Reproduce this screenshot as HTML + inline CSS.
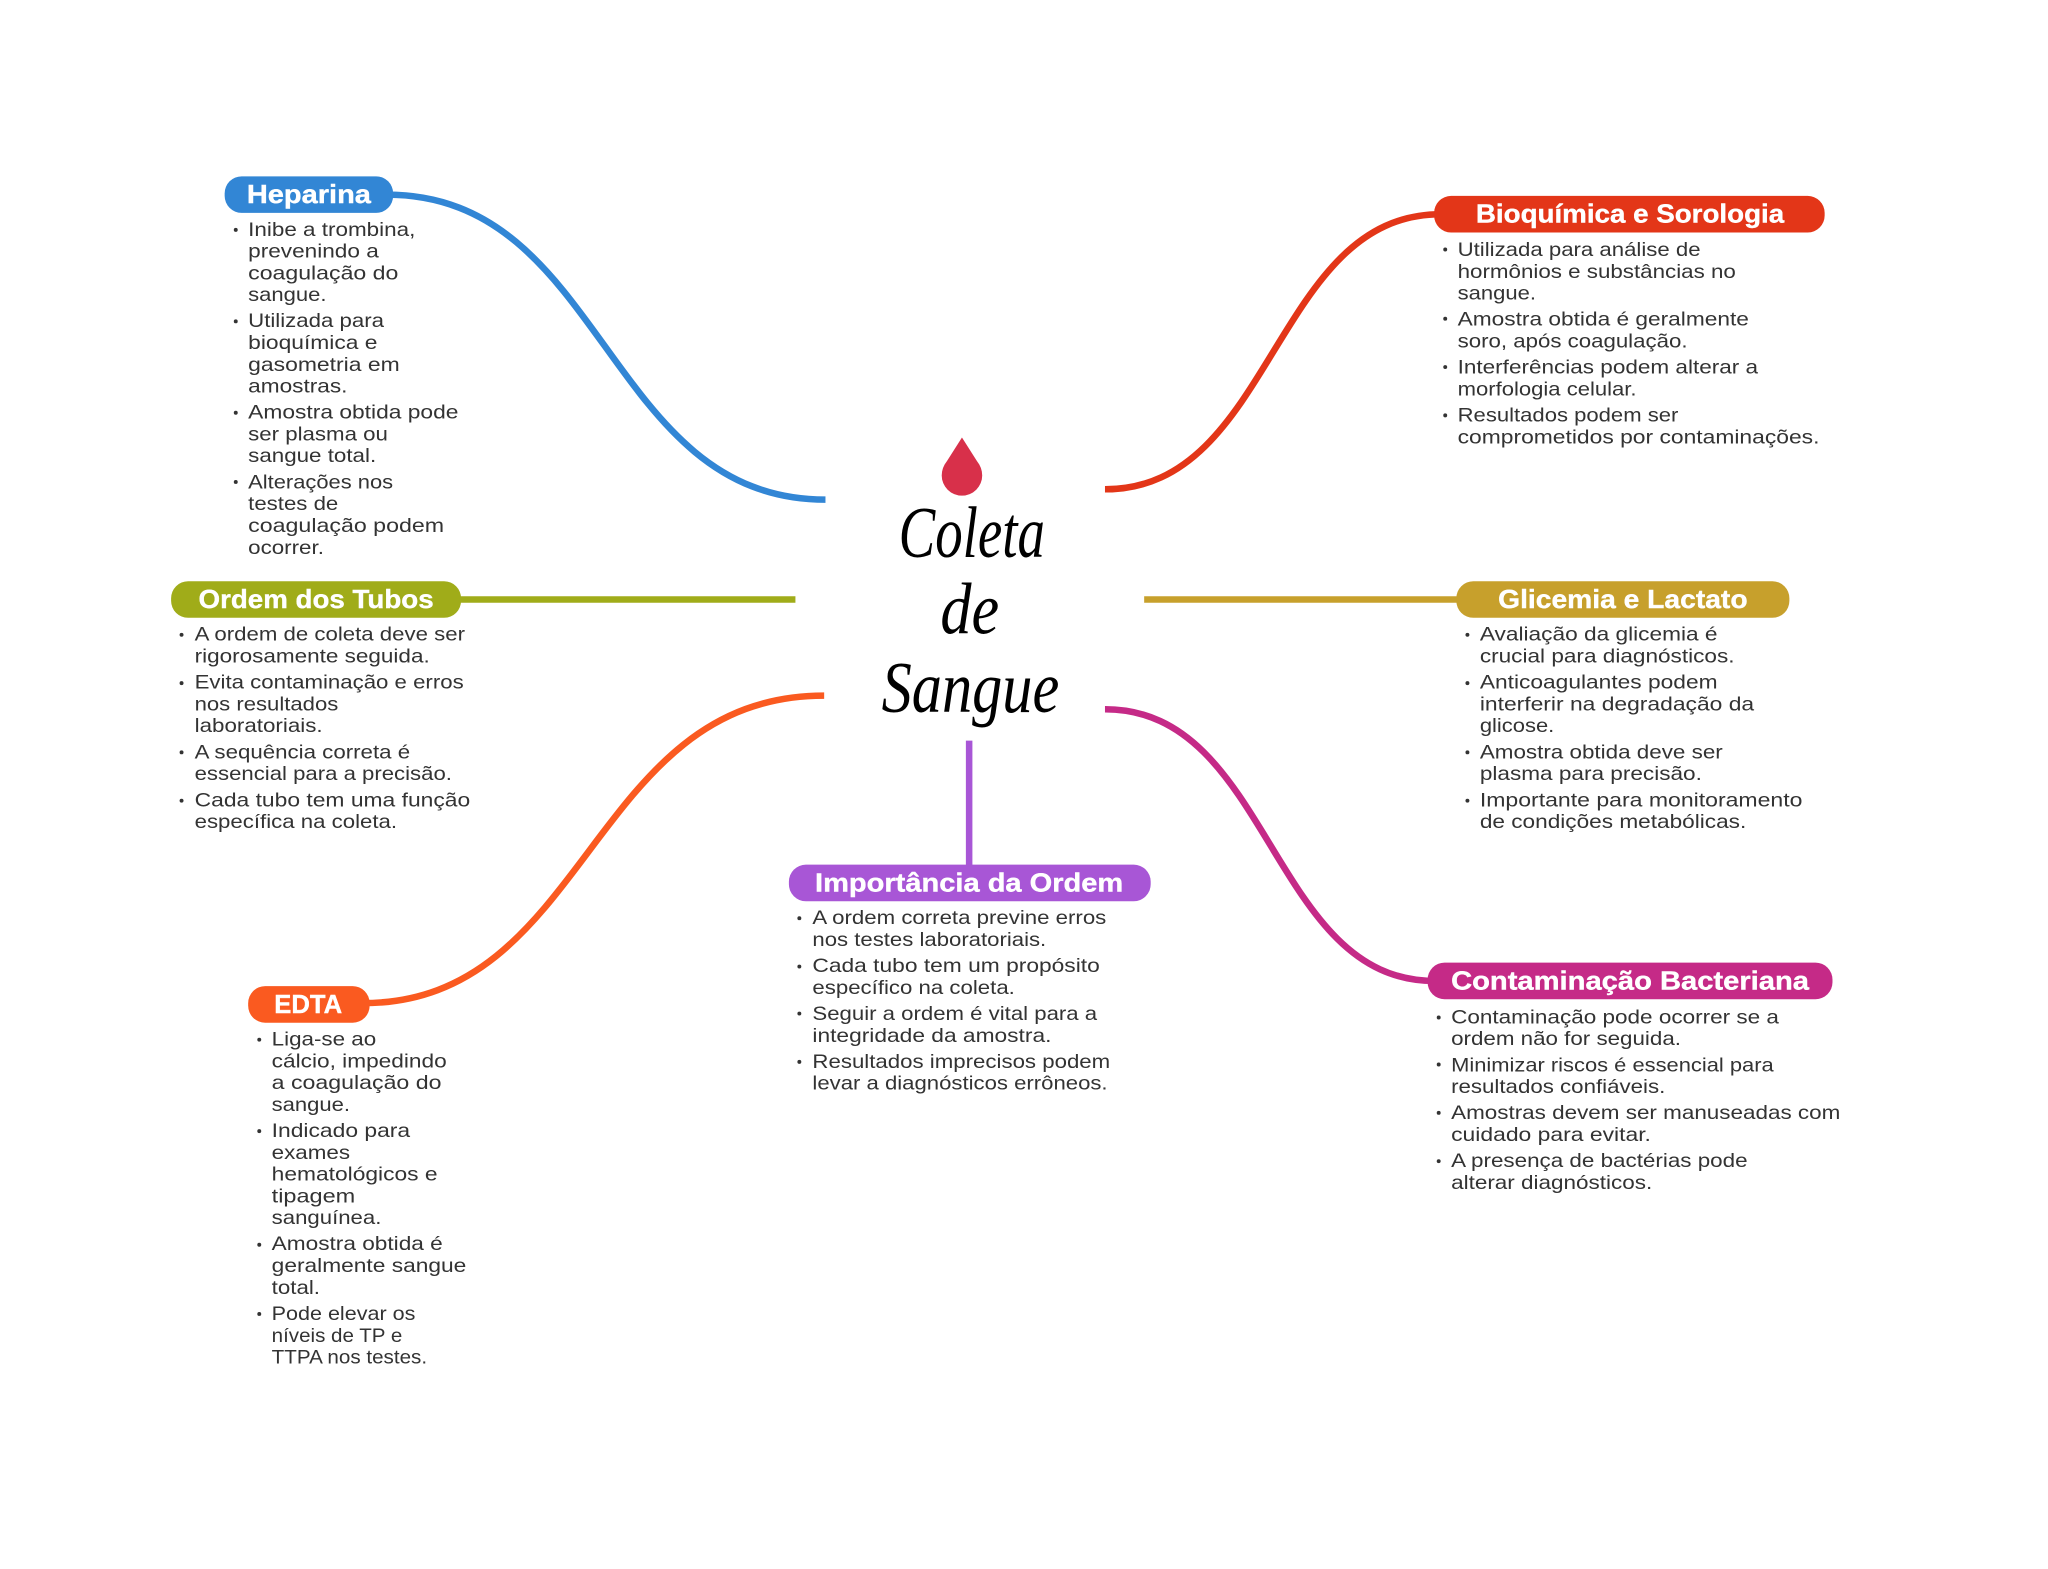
<!DOCTYPE html>
<html lang="pt">
<head>
<meta charset="utf-8">
<title>Coleta de Sangue</title>
<style>
html,body{margin:0;padding:0;background:#fff;width:2048px;height:1569px;overflow:hidden}
svg{display:block}
.t{font-family:"Liberation Sans",sans-serif;font-size:14.6px;fill:#333}
.h{font-family:"Liberation Sans",sans-serif;font-weight:700;font-size:20px;fill:#fff;stroke:#fff;stroke-width:.3px}
.s{font-family:"Liberation Serif",serif;font-style:italic;font-size:56px;fill:#000}
.c{fill:none;stroke-width:5}
</style>
</head>
<body>
<svg xmlns="http://www.w3.org/2000/svg" width="2048" height="1569" viewBox="0 0 1568 1201.25">
<rect width="1568" height="1201.25" fill="#fff"/>

<path class="c" stroke="#3286d5" d="M296 149C463.500 149 463.500 382.500 632 382.500"/>
<path class="c" stroke="#e33618" d="M846 374.600C975 374.600 975 164 1103 164"/>
<path class="c" stroke="#a0ac19" d="M348 459H609"/>
<path class="c" stroke="#c7a02c" d="M876 459H1120"/>
<path class="c" stroke="#fa5a20" d="M631 532.600C451 532.600 451 768 278 768"/>
<path class="c" stroke="#c52a87" d="M846 543C972.800 543 972.800 751 1098 751"/>
<path class="c" stroke="#a856d6" d="M742 567V667"/>

<path d="M736.500 335L725 353Q721 358 721 364A15.500 15.500 0 0 0 752 364Q752 358 748 353Z" fill="#d8304a"/>
<text class="s" x="688" y="426.500" textLength="112" lengthAdjust="spacingAndGlyphs">Coleta</text>
<text class="s" x="720" y="485" textLength="45" lengthAdjust="spacingAndGlyphs">de</text>
<text class="s" x="675" y="545" textLength="136" lengthAdjust="spacingAndGlyphs">Sangue</text>

<rect x="172" y="135" width="129" height="28" rx="13" fill="#3286d5"/>
<text class="h" x="189" y="155.500" textLength="95" lengthAdjust="spacingAndGlyphs">Heparina</text>
<rect x="1098" y="150" width="299" height="28" rx="13" fill="#e33618"/>
<text class="h" x="1130" y="170.500" textLength="236" lengthAdjust="spacingAndGlyphs">Bioquímica e Sorologia</text>
<rect x="131" y="445" width="222" height="28" rx="13" fill="#a0ac19"/>
<text class="h" x="152" y="465.500" textLength="180" lengthAdjust="spacingAndGlyphs">Ordem dos Tubos</text>
<rect x="1115" y="445" width="255" height="28" rx="13" fill="#c7a02c"/>
<text class="h" x="1147" y="465.500" textLength="191" lengthAdjust="spacingAndGlyphs">Glicemia e Lactato</text>
<rect x="604" y="662" width="277" height="28" rx="13" fill="#a856d6"/>
<text class="h" x="624" y="682.500" textLength="236" lengthAdjust="spacingAndGlyphs">Importância da Ordem</text>
<rect x="190" y="755" width="93" height="28" rx="13" fill="#fa5a20"/>
<text class="h" x="210" y="775.500" textLength="52" lengthAdjust="spacingAndGlyphs">EDTA</text>
<rect x="1093" y="737" width="310" height="28" rx="13" fill="#c52a87"/>
<text class="h" x="1111" y="757.500" textLength="274" lengthAdjust="spacingAndGlyphs">Contaminação Bacteriana</text>

<g fill="#333">
<circle cx="180.500" cy="176" r="1.500"/><circle cx="180.500" cy="246" r="1.500"/><circle cx="180.500" cy="316" r="1.500"/><circle cx="180.500" cy="369" r="1.500"/>
<circle cx="1106.500" cy="191" r="1.500"/><circle cx="1106.500" cy="244" r="1.500"/><circle cx="1106.500" cy="281" r="1.500"/><circle cx="1106.500" cy="318" r="1.500"/>
<circle cx="139" cy="486" r="1.500"/><circle cx="139" cy="523" r="1.500"/><circle cx="139" cy="576" r="1.500"/><circle cx="139" cy="613" r="1.500"/>
<circle cx="1123.500" cy="486" r="1.500"/><circle cx="1123.500" cy="523" r="1.500"/><circle cx="1123.500" cy="576" r="1.500"/><circle cx="1123.500" cy="613" r="1.500"/>
<circle cx="612" cy="703" r="1.500"/><circle cx="612" cy="740" r="1.500"/><circle cx="612" cy="776" r="1.500"/><circle cx="612" cy="813" r="1.500"/>
<circle cx="198.500" cy="796" r="1.500"/><circle cx="198.500" cy="866" r="1.500"/><circle cx="198.500" cy="953" r="1.500"/><circle cx="198.500" cy="1006" r="1.500"/>
<circle cx="1101.500" cy="779" r="1.500"/><circle cx="1101.500" cy="815" r="1.500"/><circle cx="1101.500" cy="852" r="1.500"/><circle cx="1101.500" cy="889" r="1.500"/>
</g>

<g class="t">
<text class="t" x="190" y="180.500" textLength="128" lengthAdjust="spacingAndGlyphs">Inibe a trombina,</text>
<text class="t" x="190" y="197.200" textLength="100" lengthAdjust="spacingAndGlyphs">prevenindo a</text>
<text class="t" x="190" y="213.900" textLength="115" lengthAdjust="spacingAndGlyphs">coagulação do</text>
<text class="t" x="190" y="230.500" textLength="60" lengthAdjust="spacingAndGlyphs">sangue.</text>
<text class="t" x="190" y="250.500" textLength="104" lengthAdjust="spacingAndGlyphs">Utilizada para</text>
<text class="t" x="190" y="267.200" textLength="99" lengthAdjust="spacingAndGlyphs">bioquímica e</text>
<text class="t" x="190" y="283.900" textLength="116" lengthAdjust="spacingAndGlyphs">gasometria em</text>
<text class="t" x="190" y="300.500" textLength="76" lengthAdjust="spacingAndGlyphs">amostras.</text>
<text class="t" x="190" y="320.500" textLength="161" lengthAdjust="spacingAndGlyphs">Amostra obtida pode</text>
<text class="t" x="190" y="337.200" textLength="107" lengthAdjust="spacingAndGlyphs">ser plasma ou</text>
<text class="t" x="190" y="353.900" textLength="98" lengthAdjust="spacingAndGlyphs">sangue total.</text>
<text class="t" x="190" y="373.900" textLength="111" lengthAdjust="spacingAndGlyphs">Alterações nos</text>
<text class="t" x="190" y="390.600" textLength="69" lengthAdjust="spacingAndGlyphs">testes de</text>
<text class="t" x="190" y="407.300" textLength="150" lengthAdjust="spacingAndGlyphs">coagulação podem</text>
<text class="t" x="190" y="424" textLength="58" lengthAdjust="spacingAndGlyphs">ocorrer.</text>

<text class="t" x="1116" y="196" textLength="186" lengthAdjust="spacingAndGlyphs">Utilizada para análise de</text>
<text class="t" x="1116" y="212.700" textLength="213" lengthAdjust="spacingAndGlyphs">hormônios e substâncias no</text>
<text class="t" x="1116" y="229.400" textLength="60" lengthAdjust="spacingAndGlyphs">sangue.</text>
<text class="t" x="1116" y="249.300" textLength="223" lengthAdjust="spacingAndGlyphs">Amostra obtida é geralmente</text>
<text class="t" x="1116" y="266" textLength="176" lengthAdjust="spacingAndGlyphs">soro, após coagulação.</text>
<text class="t" x="1116" y="286" textLength="230" lengthAdjust="spacingAndGlyphs">Interferências podem alterar a</text>
<text class="t" x="1116" y="302.700" textLength="137" lengthAdjust="spacingAndGlyphs">morfologia celular.</text>
<text class="t" x="1116" y="322.700" textLength="169" lengthAdjust="spacingAndGlyphs">Resultados podem ser</text>
<text class="t" x="1116" y="339.400" textLength="277" lengthAdjust="spacingAndGlyphs">comprometidos por contaminações.</text>

<text class="t" x="149" y="490.500" textLength="207" lengthAdjust="spacingAndGlyphs">A ordem de coleta deve ser</text>
<text class="t" x="149" y="507.200" textLength="180" lengthAdjust="spacingAndGlyphs">rigorosamente seguida.</text>
<text class="t" x="149" y="527.200" textLength="206" lengthAdjust="spacingAndGlyphs">Evita contaminação e erros</text>
<text class="t" x="149" y="543.900" textLength="110" lengthAdjust="spacingAndGlyphs">nos resultados</text>
<text class="t" x="149" y="560.600" textLength="98" lengthAdjust="spacingAndGlyphs">laboratoriais.</text>
<text class="t" x="149" y="580.600" textLength="165" lengthAdjust="spacingAndGlyphs">A sequência correta é</text>
<text class="t" x="149" y="597.300" textLength="197" lengthAdjust="spacingAndGlyphs">essencial para a precisão.</text>
<text class="t" x="149" y="617.300" textLength="211" lengthAdjust="spacingAndGlyphs">Cada tubo tem uma função</text>
<text class="t" x="149" y="634" textLength="155" lengthAdjust="spacingAndGlyphs">específica na coleta.</text>

<text class="t" x="1133" y="490.500" textLength="182" lengthAdjust="spacingAndGlyphs">Avaliação da glicemia é</text>
<text class="t" x="1133" y="507.200" textLength="195" lengthAdjust="spacingAndGlyphs">crucial para diagnósticos.</text>
<text class="t" x="1133" y="527.200" textLength="182" lengthAdjust="spacingAndGlyphs">Anticoagulantes podem</text>
<text class="t" x="1133" y="543.900" textLength="210" lengthAdjust="spacingAndGlyphs">interferir na degradação da</text>
<text class="t" x="1133" y="560.600" textLength="57" lengthAdjust="spacingAndGlyphs">glicose.</text>
<text class="t" x="1133" y="580.600" textLength="186" lengthAdjust="spacingAndGlyphs">Amostra obtida deve ser</text>
<text class="t" x="1133" y="597.300" textLength="170" lengthAdjust="spacingAndGlyphs">plasma para precisão.</text>
<text class="t" x="1133" y="617.300" textLength="247" lengthAdjust="spacingAndGlyphs">Importante para monitoramento</text>
<text class="t" x="1133" y="634" textLength="204" lengthAdjust="spacingAndGlyphs">de condições metabólicas.</text>

<text class="t" x="622" y="707.500" textLength="225" lengthAdjust="spacingAndGlyphs">A ordem correta previne erros</text>
<text class="t" x="622" y="724.200" textLength="179" lengthAdjust="spacingAndGlyphs">nos testes laboratoriais.</text>
<text class="t" x="622" y="744.200" textLength="220" lengthAdjust="spacingAndGlyphs">Cada tubo tem um propósito</text>
<text class="t" x="622" y="760.900" textLength="155" lengthAdjust="spacingAndGlyphs">específico na coleta.</text>
<text class="t" x="622" y="780.900" textLength="218" lengthAdjust="spacingAndGlyphs">Seguir a ordem é vital para a</text>
<text class="t" x="622" y="797.600" textLength="183" lengthAdjust="spacingAndGlyphs">integridade da amostra.</text>
<text class="t" x="622" y="817.600" textLength="228" lengthAdjust="spacingAndGlyphs">Resultados imprecisos podem</text>
<text class="t" x="622" y="834.300" textLength="226" lengthAdjust="spacingAndGlyphs">levar a diagnósticos errôneos.</text>

<text class="t" x="208" y="800.500" textLength="80" lengthAdjust="spacingAndGlyphs">Liga-se ao</text>
<text class="t" x="208" y="817.200" textLength="134" lengthAdjust="spacingAndGlyphs">cálcio, impedindo</text>
<text class="t" x="208" y="833.900" textLength="130" lengthAdjust="spacingAndGlyphs">a coagulação do</text>
<text class="t" x="208" y="850.500" textLength="60" lengthAdjust="spacingAndGlyphs">sangue.</text>
<text class="t" x="208" y="870.500" textLength="106" lengthAdjust="spacingAndGlyphs">Indicado para</text>
<text class="t" x="208" y="887.200" textLength="60" lengthAdjust="spacingAndGlyphs">exames</text>
<text class="t" x="208" y="903.900" textLength="127" lengthAdjust="spacingAndGlyphs">hematológicos e</text>
<text class="t" x="208" y="920.500" textLength="64" lengthAdjust="spacingAndGlyphs">tipagem</text>
<text class="t" x="208" y="937.200" textLength="84" lengthAdjust="spacingAndGlyphs">sanguínea.</text>
<text class="t" x="208" y="957.200" textLength="131" lengthAdjust="spacingAndGlyphs">Amostra obtida é</text>
<text class="t" x="208" y="973.900" textLength="149" lengthAdjust="spacingAndGlyphs">geralmente sangue</text>
<text class="t" x="208" y="990.600" textLength="37" lengthAdjust="spacingAndGlyphs">total.</text>
<text class="t" x="208" y="1010.600" textLength="110" lengthAdjust="spacingAndGlyphs">Pode elevar os</text>
<text class="t" x="208" y="1027.300" textLength="100" lengthAdjust="spacingAndGlyphs">níveis de TP e</text>
<text class="t" x="208" y="1044" textLength="119" lengthAdjust="spacingAndGlyphs">TTPA nos testes.</text>

<text class="t" x="1111" y="783.500" textLength="251" lengthAdjust="spacingAndGlyphs">Contaminação pode ocorrer se a</text>
<text class="t" x="1111" y="800.200" textLength="176" lengthAdjust="spacingAndGlyphs">ordem não for seguida.</text>
<text class="t" x="1111" y="820.200" textLength="247" lengthAdjust="spacingAndGlyphs">Minimizar riscos é essencial para</text>
<text class="t" x="1111" y="836.900" textLength="164" lengthAdjust="spacingAndGlyphs">resultados confiáveis.</text>
<text class="t" x="1111" y="856.900" textLength="298" lengthAdjust="spacingAndGlyphs">Amostras devem ser manuseadas com</text>
<text class="t" x="1111" y="873.600" textLength="153" lengthAdjust="spacingAndGlyphs">cuidado para evitar.</text>
<text class="t" x="1111" y="893.600" textLength="227" lengthAdjust="spacingAndGlyphs">A presença de bactérias pode</text>
<text class="t" x="1111" y="910.300" textLength="154" lengthAdjust="spacingAndGlyphs">alterar diagnósticos.</text>
</g>
</svg>
</body>
</html>
